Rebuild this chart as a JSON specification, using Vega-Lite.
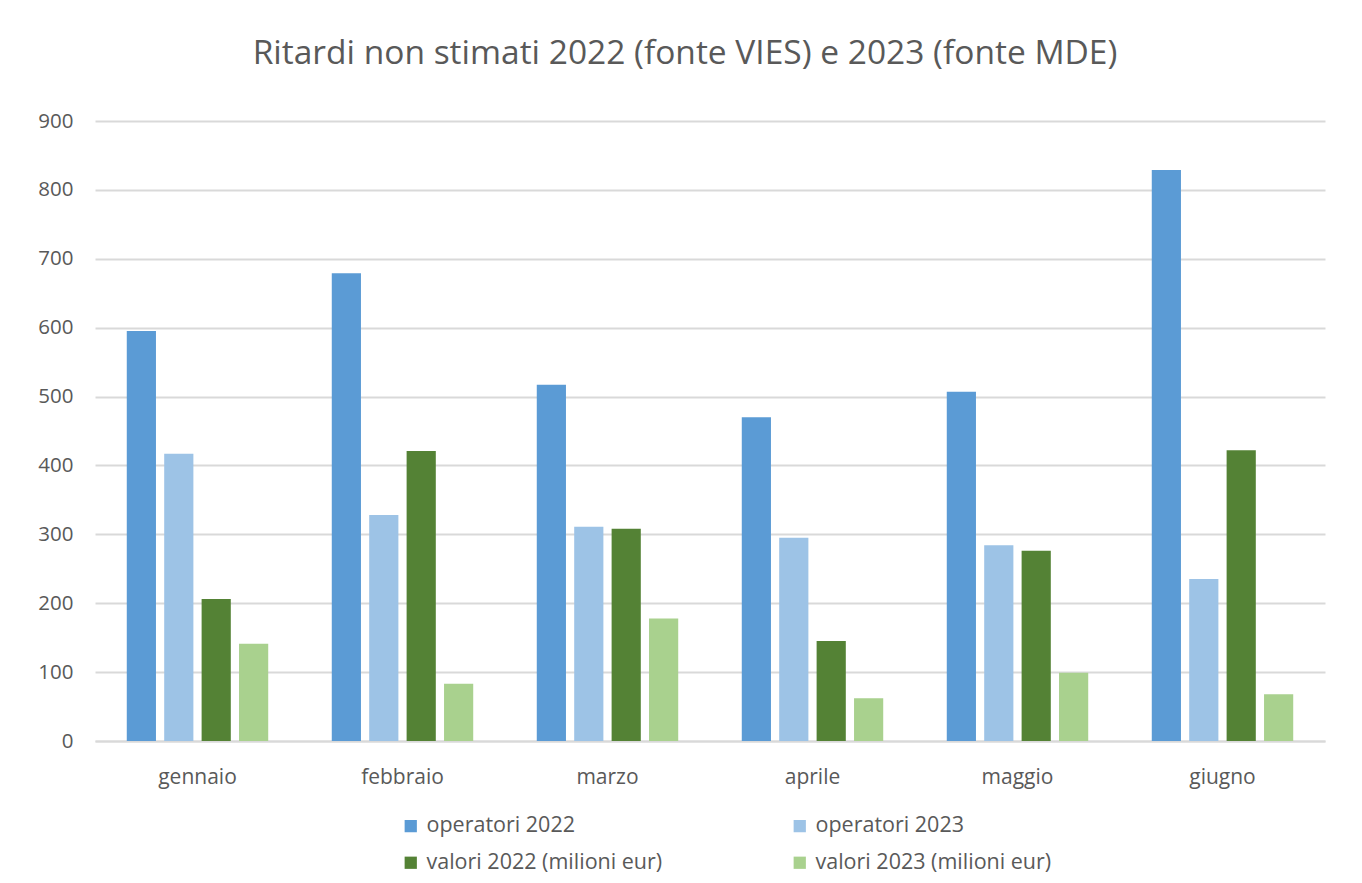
{
  "$schema": "https://vega.github.io/schema/vega-lite/v6.json",
  "width": 1230,
  "height": 620,
  "autosize": {"type": "none"},
  "padding": {"left": 95, "top": 121, "right": 37, "bottom": 142},
  "background": "white",
  "title": {
    "text": "Ritardi non stimati 2022 (fonte VIES) e 2023 (fonte MDE)",
    "font": "Open Sans",
    "fontSize": 33.5,
    "fontWeight": "normal",
    "color": "#595959",
    "anchor": "middle",
    "dx": -25,
    "offset": 40
  },
  "data": {
    "values": [
      {"mese": "gennaio", "serie": "operatori 2022", "valore": 595},
      {"mese": "gennaio", "serie": "operatori 2023", "valore": 417},
      {"mese": "gennaio", "serie": "valori 2022 (milioni eur)", "valore": 206},
      {"mese": "gennaio", "serie": "valori 2023 (milioni eur)", "valore": 141},
      {"mese": "febbraio", "serie": "operatori 2022", "valore": 679},
      {"mese": "febbraio", "serie": "operatori 2023", "valore": 328},
      {"mese": "febbraio", "serie": "valori 2022 (milioni eur)", "valore": 421},
      {"mese": "febbraio", "serie": "valori 2023 (milioni eur)", "valore": 83},
      {"mese": "marzo", "serie": "operatori 2022", "valore": 517},
      {"mese": "marzo", "serie": "operatori 2023", "valore": 311},
      {"mese": "marzo", "serie": "valori 2022 (milioni eur)", "valore": 308},
      {"mese": "marzo", "serie": "valori 2023 (milioni eur)", "valore": 178},
      {"mese": "aprile", "serie": "operatori 2022", "valore": 470},
      {"mese": "aprile", "serie": "operatori 2023", "valore": 295},
      {"mese": "aprile", "serie": "valori 2022 (milioni eur)", "valore": 145},
      {"mese": "aprile", "serie": "valori 2023 (milioni eur)", "valore": 62},
      {"mese": "maggio", "serie": "operatori 2022", "valore": 507},
      {"mese": "maggio", "serie": "operatori 2023", "valore": 284},
      {"mese": "maggio", "serie": "valori 2022 (milioni eur)", "valore": 276},
      {"mese": "maggio", "serie": "valori 2023 (milioni eur)", "valore": 99},
      {"mese": "giugno", "serie": "operatori 2022", "valore": 829},
      {"mese": "giugno", "serie": "operatori 2023", "valore": 235},
      {"mese": "giugno", "serie": "valori 2022 (milioni eur)", "valore": 422},
      {"mese": "giugno", "serie": "valori 2023 (milioni eur)", "valore": 68}
    ]
  },
  "mark": {"type": "bar"},
  "encoding": {
    "x": {
      "field": "mese",
      "type": "nominal",
      "sort": ["gennaio", "febbraio", "marzo", "aprile", "maggio", "giugno"],
      "scale": {"paddingInner": 0.31, "paddingOuter": 0.155},
      "axis": {
        "title": null,
        "labelAngle": 0,
        "ticks": false,
        "domainColor": "#d9d9d9",
        "domainWidth": 2,
        "labelFont": "Open Sans",
        "labelFontSize": 21,
        "labelColor": "#595959",
        "labelPadding": 25
      }
    },
    "xOffset": {
      "field": "serie",
      "type": "nominal",
      "scale": {"paddingInner": 0.22, "paddingOuter": 0}
    },
    "y": {
      "field": "valore",
      "type": "quantitative",
      "scale": {"domain": [0, 900]},
      "axis": {
        "title": null,
        "values": [0, 100, 200, 300, 400, 500, 600, 700, 800, 900],
        "domain": false,
        "ticks": false,
        "gridColor": "#d9d9d9",
        "gridWidth": 2,
        "labelFont": "Open Sans",
        "labelFontSize": 20.5,
        "labelColor": "#595959",
        "labelPadding": 22
      }
    },
    "color": {
      "field": "serie",
      "type": "nominal",
      "scale": {
        "domain": ["operatori 2022", "operatori 2023", "valori 2022 (milioni eur)", "valori 2023 (milioni eur)"],
        "range": ["#5B9BD5", "#9DC3E6", "#548235", "#A9D18E"]
      },
      "legend": {
        "title": null,
        "orient": "none",
        "legendX": 305,
        "legendY": 694,
        "direction": "horizontal",
        "columns": 2,
        "symbolType": "square",
        "symbolSize": 150,
        "symbolStrokeWidth": 0,
        "symbolOffset": 0,
        "labelOffset": 5,
        "labelLimit": 500,
        "labelFont": "Open Sans",
        "labelFontSize": 21.5,
        "labelColor": "#595959",
        "columnPadding": 126,
        "rowPadding": 14
      }
    }
  },
  "config": {
    "view": {"stroke": null}
  }
}
